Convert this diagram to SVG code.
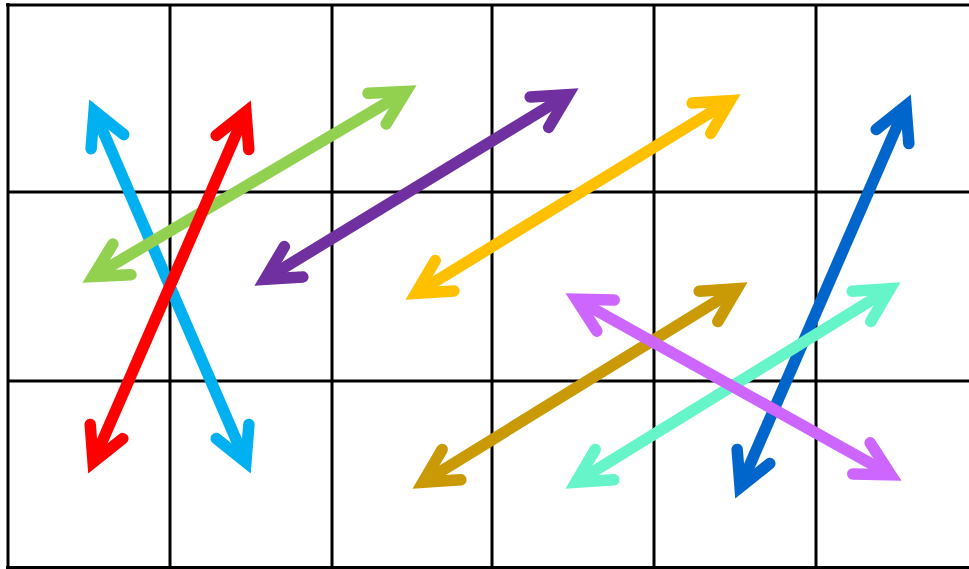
<svg xmlns="http://www.w3.org/2000/svg" width="969" height="569" viewBox="0 0 969 569">
<style>
.grid{stroke:#000;stroke-width:3;fill:none}
.shaft{fill:none;stroke-width:11.5;stroke-linecap:butt}
.head{fill:none;stroke-width:11.5;stroke-linecap:round;stroke-linejoin:miter;stroke-miterlimit:10}
</style>
<defs>
<marker id="m-lblue" markerUnits="userSpaceOnUse" orient="auto-start-reverse" refX="0" refY="0" markerWidth="80" markerHeight="80" viewBox="-40 -40 80 80" overflow="visible"><path class="head" stroke="#00B0F0" d="M-33.6,-17.8 L0,0 L-33.6,17.8"/></marker>
<marker id="m-red" markerUnits="userSpaceOnUse" orient="auto-start-reverse" refX="0" refY="0" markerWidth="80" markerHeight="80" viewBox="-40 -40 80 80" overflow="visible"><path class="head" stroke="#FF0000" d="M-33.6,-17.8 L0,0 L-33.6,17.8"/></marker>
<marker id="m-green" markerUnits="userSpaceOnUse" orient="auto-start-reverse" refX="0" refY="0" markerWidth="80" markerHeight="80" viewBox="-40 -40 80 80" overflow="visible"><path class="head" stroke="#92D050" d="M-33.6,-17.8 L0,0 L-33.6,17.8"/></marker>
<marker id="m-purple" markerUnits="userSpaceOnUse" orient="auto-start-reverse" refX="0" refY="0" markerWidth="80" markerHeight="80" viewBox="-40 -40 80 80" overflow="visible"><path class="head" stroke="#7030A0" d="M-33.6,-17.8 L0,0 L-33.6,17.8"/></marker>
<marker id="m-yellow" markerUnits="userSpaceOnUse" orient="auto-start-reverse" refX="0" refY="0" markerWidth="80" markerHeight="80" viewBox="-40 -40 80 80" overflow="visible"><path class="head" stroke="#FFC000" d="M-33.6,-17.8 L0,0 L-33.6,17.8"/></marker>
<marker id="m-dblue" markerUnits="userSpaceOnUse" orient="auto-start-reverse" refX="0" refY="0" markerWidth="80" markerHeight="80" viewBox="-40 -40 80 80" overflow="visible"><path class="head" stroke="#0066CC" d="M-33.6,-17.8 L0,0 L-33.6,17.8"/></marker>
<marker id="m-gold" markerUnits="userSpaceOnUse" orient="auto-start-reverse" refX="0" refY="0" markerWidth="80" markerHeight="80" viewBox="-40 -40 80 80" overflow="visible"><path class="head" stroke="#C99A06" d="M-33.6,-17.8 L0,0 L-33.6,17.8"/></marker>
<marker id="m-aqua" markerUnits="userSpaceOnUse" orient="auto-start-reverse" refX="0" refY="0" markerWidth="80" markerHeight="80" viewBox="-40 -40 80 80" overflow="visible"><path class="head" stroke="#66F5C8" d="M-33.6,-17.8 L0,0 L-33.6,17.8"/></marker>
<marker id="m-violet" markerUnits="userSpaceOnUse" orient="auto-start-reverse" refX="0" refY="0" markerWidth="80" markerHeight="80" viewBox="-40 -40 80 80" overflow="visible"><path class="head" stroke="#CC66FF" d="M-33.6,-17.8 L0,0 L-33.6,17.8"/></marker>
</defs>
<rect x="0" y="0" width="969" height="569" fill="#fff"/>
<g id="grid">
<line class="grid" x1="8" y1="3" x2="8" y2="569" stroke-width="4"/>
<line class="grid" x1="6" y1="5" x2="969" y2="5" stroke-width="4"/>
<line class="grid" x1="6" y1="567.5" x2="969" y2="567.5" stroke-width="2"/>
<line class="grid" x1="170" y1="5" x2="170" y2="569"/>
<line class="grid" x1="332" y1="5" x2="332" y2="569"/>
<line class="grid" x1="492" y1="5" x2="492" y2="569"/>
<line class="grid" x1="654" y1="5" x2="654" y2="569"/>
<line class="grid" x1="816" y1="5" x2="816" y2="569"/>
<line class="grid" x1="8" y1="192" x2="969" y2="192"/>
<line class="grid" x1="8" y1="381" x2="969" y2="381"/>
</g>
<g id="connectors">
<line class="shaft" stroke="#00B0F0" x1="94.1" y1="110.8" x2="245.9" y2="462.3" marker-start="url(#m-lblue)" marker-end="url(#m-lblue)"/>
<line class="shaft" stroke="#92D050" x1="406" y1="91.5" x2="93" y2="276.5" marker-start="url(#m-green)" marker-end="url(#m-green)"/>
<line class="shaft" stroke="#FF0000" x1="245.9" y1="111.7" x2="93.1" y2="462.3" marker-start="url(#m-red)" marker-end="url(#m-red)"/>
<line class="shaft" stroke="#7030A0" x1="568.1" y1="94.7" x2="264.9" y2="279.3" marker-start="url(#m-purple)" marker-end="url(#m-purple)"/>
<line class="shaft" stroke="#FFC000" x1="730.1" y1="100.7" x2="415.9" y2="293.3" marker-start="url(#m-yellow)" marker-end="url(#m-yellow)"/>
<line class="shaft" stroke="#C99A06" x1="737.1" y1="288.7" x2="422.9" y2="482.3" marker-start="url(#m-gold)" marker-end="url(#m-gold)"/>
<line class="shaft" stroke="#0066CC" x1="905.9" y1="105.7" x2="740.1" y2="487.3" marker-start="url(#m-dblue)" marker-end="url(#m-dblue)"/>
<line class="shaft" stroke="#66F5C8" x1="890.1" y1="288.7" x2="575.9" y2="482.3" marker-start="url(#m-aqua)" marker-end="url(#m-aqua)"/>
<line class="shaft" stroke="#CC66FF" x1="576.2" y1="299.2" x2="890.8" y2="474.8" marker-start="url(#m-violet)" marker-end="url(#m-violet)"/>
</g>
</svg>
